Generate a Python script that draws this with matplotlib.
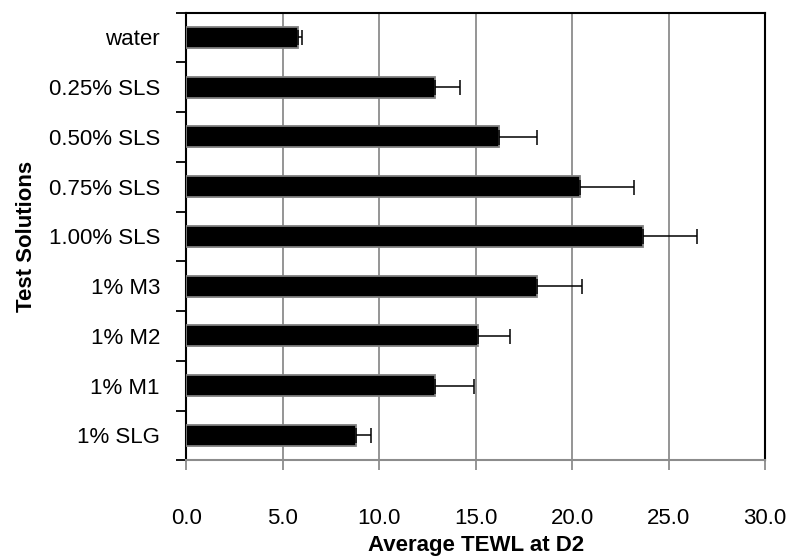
import numpy as np
import matplotlib.pyplot as plt
from matplotlib.ticker import FixedLocator

plt.rcParams['font.family'] = ['Liberation Sans', 'DejaVu Sans']

# TEWL at day 2, mean and upper error per solution
solutions = ['water', '0.25% SLS', '0.50% SLS', '0.75% SLS', '1.00% SLS',
             '1% M3', '1% M2', '1% M1', '1% SLG']
tewl = [5.8, 12.9, 16.2, 20.4, 23.7, 18.2, 15.1, 12.9, 8.8]
err = [0.2, 1.3, 2.0, 2.8, 2.8, 2.3, 1.7, 2.0, 0.8]
xticks = [0, 5, 10, 15, 20, 25, 30]

fig = plt.figure(figsize=(7.9, 5.56), dpi=100)
ax = fig.add_axes([0.2358, 0.1721, 0.7325, 0.8054])

y = np.arange(len(solutions))
ax.barh(y, tewl, height=0.42, color='black', edgecolor='#7f7f7f', linewidth=1.3, zorder=3)
ax.errorbar(tewl, y, xerr=[np.zeros(len(err)), err], fmt='none', ecolor='black',
            elinewidth=1.1, capsize=5.4, capthick=1.1, zorder=4)

ax.set_xlim(0, 30)
ax.set_ylim(len(solutions) - 0.5, -0.5)
ax.set_xticks(xticks)
ax.set_xticklabels(['%.1f' % v for v in xticks], fontsize=16)
ax.set_yticks(y)
ax.set_yticklabels(solutions, fontsize=16)
ax.yaxis.set_minor_locator(FixedLocator(np.arange(-0.5, len(solutions), 1.0)))

ax.tick_params(axis='y', which='major', length=0, pad=19)
ax.tick_params(axis='y', which='minor', length=7, width=1.3, color='black', direction='out')
ax.tick_params(axis='x', length=7, width=1.3, color='#8c8c8c', pad=27)

ax.xaxis.grid(True, color='#8c8c8c', linewidth=1.3, zorder=0)
ax.set_axisbelow(True)

for side in ['left', 'top', 'right']:
    ax.spines[side].set_color('black')
    ax.spines[side].set_linewidth(1.5)
ax.spines['bottom'].set_color('#8c8c8c')
ax.spines['bottom'].set_linewidth(1.5)

ax.set_xlabel('Average TEWL at D2', fontsize=16, fontweight='bold', labelpad=5)
ax.set_ylabel('Test Solutions', fontsize=16, fontweight='bold', labelpad=8)

fig.savefig('out.png', dpi=100)
